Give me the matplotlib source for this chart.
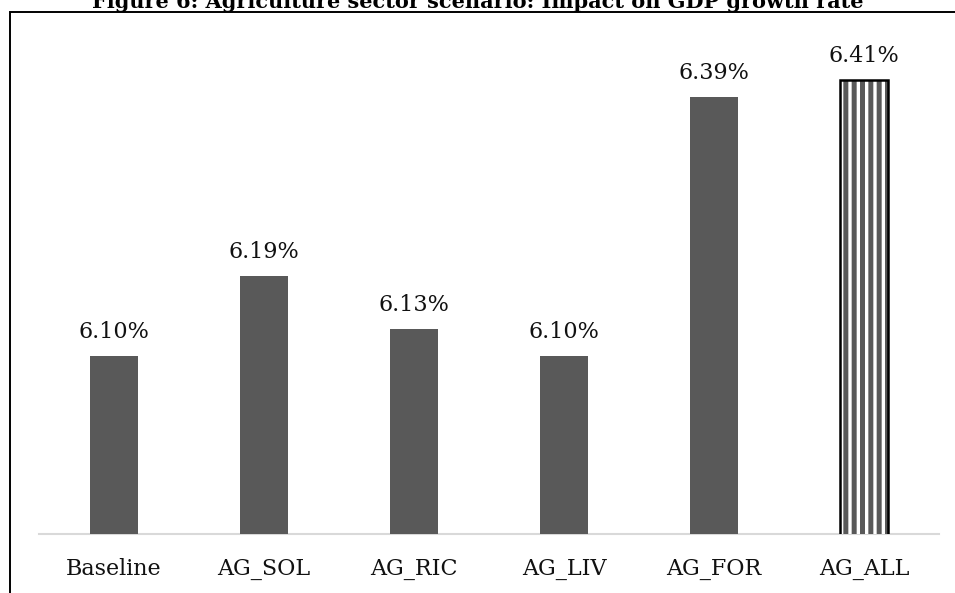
import matplotlib
matplotlib.use("Agg")
import matplotlib.pyplot as plt
from matplotlib.patches import Rectangle

categories = ["Baseline", "AG_SOL", "AG_RIC", "AG_LIV", "AG_FOR", "AG_ALL"]
gdp_growth = [6.10, 6.19, 6.13, 6.10, 6.39, 6.41]
value_labels = ["6.10%", "6.19%", "6.13%", "6.10%", "6.39%", "6.41%"]
title = "Figure 6: Agriculture sector scenario: Impact on GDP growth rate"

W, H = 955, 593
plt.rcParams["hatch.linewidth"] = 3.6
fig = plt.figure(figsize=(W / 100, H / 100), dpi=100)
serif = ["DejaVu Serif"]

# plot area in pixel terms
left_px, right_px, bottom_px, top_px = 39, 939, 534, 44
ax = fig.add_axes([left_px / W, (H - bottom_px) / H,
                   (right_px - left_px) / W, (bottom_px - top_px) / H])

x = list(range(len(categories)))
bar_color = "#595959"
ax.bar(x[:-1], gdp_growth[:-1], width=0.32, color=bar_color, zorder=2)

# combined scenario: vertical stripes with a black outline
striped = ax.bar(x[-1:], gdp_growth[-1:], width=0.32, facecolor="white",
                 edgecolor=bar_color, hatch="||", linewidth=0, zorder=2)
for p in striped:
    if hasattr(p, "set_hatch_linewidth"):
        p.set_hatch_linewidth(3.6)
ax.bar(x[-1:], gdp_growth[-1:], width=0.32, fill=False,
       edgecolor="black", linewidth=1.8, zorder=3)

for xi, v, lab in zip(x, gdp_growth, value_labels):
    ax.annotate(lab, (xi, v), xytext=(0, 13), textcoords="offset points",
                ha="center", va="baseline", fontsize=16, family=serif,
                color="#111111")

ax.set_xlim(-0.5, len(categories) - 0.5)
ax.set_ylim(5.9, 6.45)
ax.set_yticks([])
ax.set_xticks(x)
ax.set_xticklabels(categories, fontsize=16, family=serif, color="#111111")
ax.tick_params(axis="x", length=0, pad=17)
for s in ["top", "right", "left"]:
    ax.spines[s].set_visible(False)
ax.spines["bottom"].set_color("#d9d9d9")
ax.spines["bottom"].set_linewidth(1.5)
ax.spines["bottom"].set_zorder(1)

# frame around the chart, running past the right and bottom edges
frame = Rectangle((9.5 / W, -0.05), 1.1, 1 - 12.5 / H + 0.05,
                  transform=fig.transFigure, fill=False,
                  edgecolor="black", linewidth=1.4, clip_on=False)
fig.patches.append(frame)

fig.text(0.5, 1 - 7.5 / H, title, ha="center", va="baseline",
         fontsize=15, fontweight="bold", family=serif, color="black")

fig.savefig("out.png", dpi=100)
